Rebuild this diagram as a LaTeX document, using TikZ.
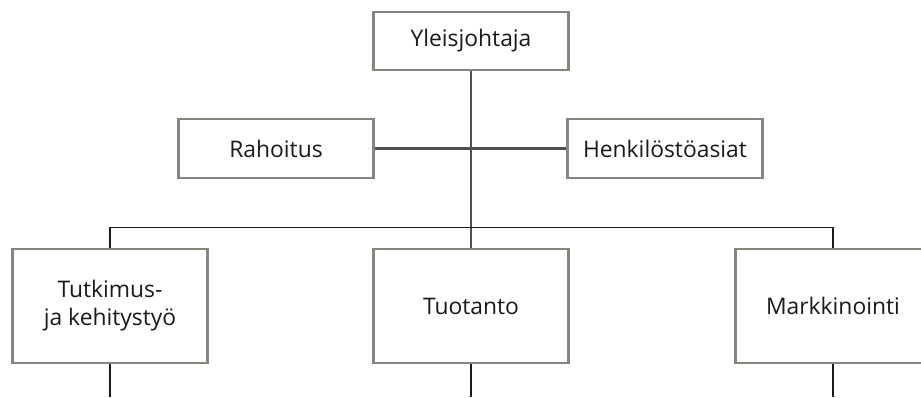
\documentclass[tikz,border=0pt]{standalone}
\usepackage{fontspec}
\setmainfont{Open Sans}
\usetikzlibrary{positioning}
\definecolor{cframe}{HTML}{86867F}
\definecolor{cstem}{HTML}{505050}
\definecolor{cbus}{HTML}{1A1A1A}
\definecolor{ctext}{HTML}{1A1A1A}

\begin{document}
\begin{tikzpicture}[
  x=0.02cm, y=-0.02cm,
  unit/.style={draw=cframe, line width=1.3pt, fill=white, font=\fontsize{13}{16}\selectfont,
               text=ctext, minimum width=3.9cm, minimum height=1.17cm, align=center, inner sep=0pt},
  dept/.style={unit, minimum height=2.28cm},
  stem/.style={draw=cstem, line width=1.3pt},
  bus/.style={draw=cbus, line width=1pt}
]
\useasboundingbox (0,0) rectangle (921,397);

% staff level
\node[unit] (gm)  at (471,41)    {Yleisjohtaja};
\node[unit] (fin) at (276,148.5) {Rahoitus};
\node[unit] (hr)  at (665,148.5) {Henkilöstöasiat};

% line level
\node[dept] (rd)   at (110,306) {Tutkimus-\\ja kehitystyö};
\node[dept] (prod) at (471,306) {Tuotanto};
\node[dept] (mkt)  at (833,306) {Markkinointi};

\coordinate (split) at (471,227.5);
\coordinate (rdEnd)   at (110,397);
\coordinate (prodEnd) at (471,397);
\coordinate (mktEnd)  at (833,397);

\draw[stem] (gm) -- (prod);
\draw[stem] (fin) -- (hr);
\draw[bus] (rd.north) |- (split) -| (mkt.north);
\draw[bus] (rd) -- (rdEnd);
\draw[bus] (prod) -- (prodEnd);
\draw[bus] (mkt) -- (mktEnd);
\end{tikzpicture}
\end{document}
